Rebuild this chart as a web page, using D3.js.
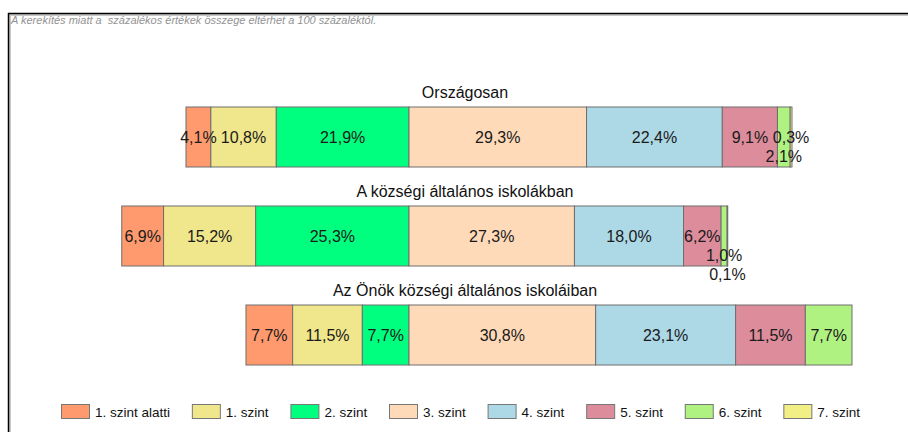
<!DOCTYPE html>
<html>
<head>
<meta charset="utf-8">
<script src="https://cdn.jsdelivr.net/npm/d3@7"></script>
<style>
  html, body { margin: 0; padding: 0; background: #fff; }
  svg { display: block; font-family: "Liberation Sans", Arial, sans-serif; }
</style>
</head>
<body>
<svg id="chart" width="908" height="432"></svg>
<script>
// ---- data ----
const groups = ["Országosan", "A községi általános iskolákban", "Az Önök községi általános iskoláiban"];
const categories = ["1. szint alatti", "1. szint", "2. szint", "3. szint", "4. szint", "5. szint", "6. szint", "7. szint"];
const valuesOrszagosan = [4.1, 10.8, 21.9, 29.3, 22.4, 9.1, 2.1, 0.3];
const valuesKozsegi    = [6.9, 15.2, 25.3, 27.3, 18.0, 6.2, 1.0, 0.1];
const valuesOnok       = [7.7, 11.5, 7.7, 30.8, 23.1, 11.5, 7.7, 0.0];
const noteText = "A kerekítés miatt a  százalékos értékek összege eltérhet a 100 százaléktól.";

// ---- styles ----
const colors = ["#FF9A6E", "#F0E68C", "#00FF7F", "#FFDAB9", "#ADD8E6", "#DD8C9C", "#B0F282", "#F2EF84"];
const leftCount = 3; // categories stacked to the left of the zero line

const allValues = [valuesOrszagosan, valuesKozsegi, valuesOnok];
// label stagger for very thin segments (layout only)
const labelShift = {
  "0|6": 1,
  "1|6": 1,
  "1|7": 2
};

const svg = d3.select("#chart");

// frame
svg.append("line").attr("x1", 8).attr("x2", 908).attr("y1", 15).attr("y2", 15)
  .attr("stroke", "#c8c8c8").attr("stroke-width", 2);
svg.append("line").attr("x1", 10).attr("x2", 10).attr("y1", 15).attr("y2", 432)
  .attr("stroke", "#c8c8c8").attr("stroke-width", 2);
svg.append("line").attr("x1", 8).attr("x2", 908).attr("y1", 13.5).attr("y2", 13.5)
  .attr("stroke", "#000").attr("stroke-width", 1.5);
svg.append("line").attr("x1", 8.5).attr("x2", 8.5).attr("y1", 13).attr("y2", 432)
  .attr("stroke", "#000").attr("stroke-width", 1.5);

// note
svg.append("text")
  .attr("x", 11).attr("y", 24)
  .attr("font-size", 11).attr("font-style", "italic")
  .attr("fill", "#939393")
  .style("white-space", "pre")
  .text(noteText);

// scales
const pxPerPct = 6.06;
const zeroX = 409;
const x = d3.scaleLinear().domain([-50, 80]).range([zeroX - 50 * pxPerPct, zeroX + 80 * pxPerPct]);
const y = d3.scaleBand().domain(groups).range([107, 365]).paddingInner(0.394).paddingOuter(0);
const color = d3.scaleOrdinal().domain(categories).range(colors);

// build segments
const segs = [];
groups.forEach((g, gi) => {
  const vals = allValues[gi];
  let start = -d3.sum(vals.slice(0, leftCount));
  vals.forEach((v, ci) => {
    if (v > 0) segs.push({ g, gi, ci, cat: categories[ci], v, x0: start, x1: start + v });
    start += v;
  });
});

// titles
svg.selectAll("text.title").data(groups).join("text")
  .attr("class", "title")
  .attr("x", 465)
  .attr("y", d => y(d) - 9.5)
  .attr("text-anchor", "middle")
  .attr("font-size", 16)
  .attr("fill", "#111")
  .text(d => d);

// bars
svg.append("g").selectAll("rect").data(segs).join("rect")
  .attr("x", d => x(d.x0))
  .attr("y", d => y(d.g))
  .attr("width", d => x(d.x1) - x(d.x0))
  .attr("height", y.bandwidth())
  .attr("fill", d => color(d.cat))
  .attr("stroke", "#6e6e6e")
  .attr("stroke-width", 1);

// labels
const fmt = v => v.toFixed(1).replace(".", ",") + "%";
svg.append("g").selectAll("text").data(segs).join("text")
  .attr("x", d => (x(d.x0) + x(d.x1)) / 2)
  .attr("y", d => y(d.g) + y.bandwidth() / 2 + 6 + 19 * (labelShift[d.gi + "|" + d.ci] || 0))
  .attr("text-anchor", "middle")
  .attr("font-size", 16)
  .attr("fill", "#1a1a1a")
  .text(d => fmt(d.v));

// legend
const swW = 28, swH = 14, textGap = 6, itemGap = 21.8;
const leg = svg.append("g").selectAll("g").data(categories).join("g");
leg.append("rect")
  .attr("x", 0.5).attr("y", 0.5).attr("width", swW).attr("height", swH)
  .attr("fill", d => color(d))
  .attr("stroke", "#777").attr("stroke-width", 1);
leg.append("text")
  .attr("x", swW + textGap).attr("y", 12.5)
  .attr("font-size", 13.5)
  .attr("fill", "#111")
  .text(d => d);
let cx = 61;
leg.each(function () {
  const g = d3.select(this);
  g.attr("transform", `translate(${cx},404)`);
  const w = g.select("text").node().getComputedTextLength();
  cx += swW + textGap + w + itemGap;
});
</script>
</body>
</html>
